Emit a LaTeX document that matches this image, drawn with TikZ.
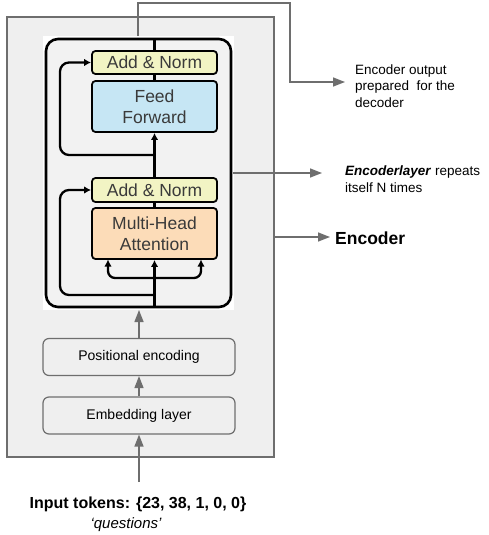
\documentclass[tikz,border=0pt]{standalone}
\usepackage{fontspec}
\setmainfont{Liberation Sans}
\usetikzlibrary{arrows.meta,positioning,calc}
\definecolor{outerfill}{HTML}{EFEFEF}
\definecolor{grayline}{HTML}{6E6E6E}
\definecolor{layerfill}{HTML}{F2F2F2}
\definecolor{normfill}{HTML}{F2F4C4}
\definecolor{fffill}{HTML}{C6E6F4}
\definecolor{mhafill}{HTML}{FCDCB8}
\definecolor{tfgray}{HTML}{3A3A3A}
\tikzset{
  tfbox/.style={draw=black, line width=1.8pt, rounded corners=3.5pt, minimum width=125pt, inner sep=0pt, align=center, text=tfgray, font=\fontsize{17.5}{21}\selectfont},
  graybox/.style={draw=grayline, line width=1.2pt, rounded corners=6pt, fill=outerfill, minimum width=192pt, minimum height=37pt, inner sep=0pt, font=\fontsize{14}{16}\selectfont},
  blk/.style={line width=2.3pt, black},
  blkarrow/.style={blk, -{Latex[length=7pt,width=7.5pt]}},
  gline/.style={draw=grayline, line width=1.4pt},
  garrow/.style={gline, -{Triangle[length=12pt,width=9pt]}},
  note/.style={anchor=west, align=left, inner sep=0pt, font=\fontsize{13.5}{16.5}\selectfont}
}
\begin{document}
\begin{tikzpicture}[x=1pt,y=-1pt]
\useasboundingbox (0,0) rectangle (489,535);
% outer encoder box
\node[draw=grayline, line width=1.4pt, fill=outerfill, minimum width=267pt, minimum height=440pt, inner sep=0pt] (outer) at (140.5,237) {};
% white image area and layer box
\node[fill=white, minimum width=191pt, minimum height=274pt, inner sep=0pt] (img) at (138.5,173) {};
\node[draw=black, line width=2.6pt, fill=layerfill, rounded corners=12pt, minimum width=185pt, minimum height=268pt, inner sep=0pt] (layer) at (138.5,173) {};
% transformer sub-blocks
\node[tfbox, fill=normfill, minimum height=23pt] (an1) at (154.5,62.5) {Add \& Norm};
\node[tfbox, fill=fffill, minimum height=51pt] (ff) at (154.5,106.5) {Feed\\Forward};
\node[tfbox, fill=normfill, minimum height=24pt] (an2) at (154.5,190) {Add \& Norm};
\node[tfbox, fill=mhafill, minimum height=51pt] (mha) at (154.5,233.5) {Multi-Head\\Attention};
% lower boxes
\node[graybox] (pe) at (139,357) {Positional encoding};
\node[graybox] (emb) at (139,415.5) {Embedding layer};
% texts
\node[note] (outtxt) at (355,86) {Encoder output\\prepared\ \ for the\\decoder};
\node[note] (reptxt) at (345,179) {\textbf{\textit{Encoderlayer}} repeats\\itself N times};
\node[anchor=west, inner sep=0pt, font=\fontsize{17.5}{20}\selectfont\bfseries] (enctxt) at (335,238) {Encoder};
\node[inner sep=0pt, font=\fontsize{16}{18}\selectfont\bfseries] (intxt) at (138,504) {Input tokens: \{23, 38, 1, 0, 0\}};
\node[inner sep=0pt, font=\fontsize{15}{18}\selectfont\itshape] (qtxt) at (126,525) {‘questions’};
% coordinates
\coordinate (cbot) at (154.5,307);
\coordinate (ctop) at (154.5,39);
\coordinate (br) at (154.5,278);
\coordinate (res1) at (154.5,295);
\coordinate (res2) at (154.5,155);
\coordinate (lft) at (108,259.5);
\coordinate (rgt) at (201,259.5);
\coordinate (lp1) at (60,190);
\coordinate (lp2) at (60,62.5);
\coordinate (g0) at (138,36);
\coordinate (g1) at (138,3);
\coordinate (g2) at (290,3);
\coordinate (g3) at (290,82);
\coordinate (g4) at (345,82);
\coordinate (r0) at (233,173);
\coordinate (r1) at (322,173);
\coordinate (e0) at (274,237);
\coordinate (e1) at (330,237);
\coordinate (imgbot) at (139,310);
\coordinate (in0) at (139,482);
% black connectors
\draw[blkarrow] (cbot) -- (mha.south);
\draw[blkarrow, rounded corners=7pt] (br) -| (lft);
\draw[blkarrow, rounded corners=7pt] (br) -| (rgt);
\draw[blkarrow, rounded corners=9pt] (res1) -| (lp1) -- (an2.west);
\draw[blk] (mha.north) -- (an2.south);
\draw[blkarrow] (an2.north) -- (ff.south);
\draw[blkarrow, rounded corners=9pt] (res2) -| (lp2) -- (an1.west);
\draw[blk] (ff.north) -- (an1.south);
\draw[blk] (an1.north) -- (ctop);
% gray connectors
\draw[garrow] (g0) -- (g1) -- (g2) -- (g3) -- (g4);
\draw[garrow] (r0) -- (r1);
\draw[garrow] (e0) -- (e1);
\draw[garrow] (pe.north) -- (imgbot);
\draw[garrow] (emb.north) -- (pe.south);
\draw[garrow] (in0) -- (emb.south);
\end{tikzpicture}
\end{document}
